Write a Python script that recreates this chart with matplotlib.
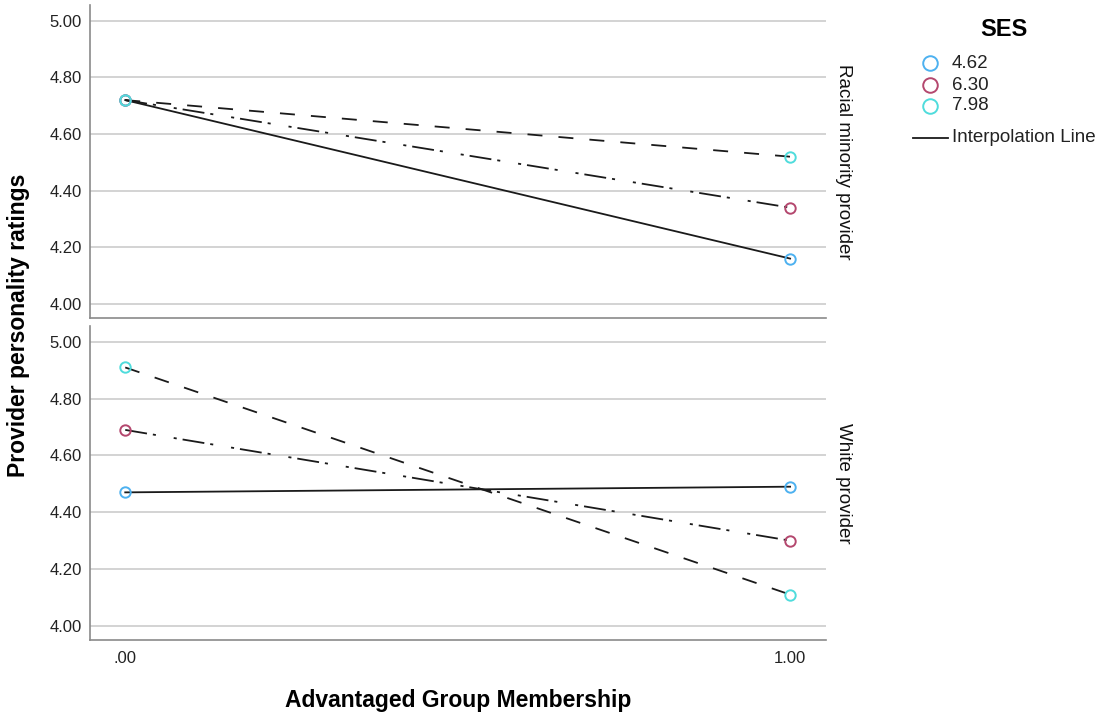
import matplotlib
matplotlib.use("Agg")
import matplotlib.pyplot as plt
from matplotlib.lines import Line2D

plt.rcParams['font.family'] = ['Liberation Sans', 'DejaVu Sans']

# Data
x_vals = [0.0, 1.0]
x_labels = [".00", "1.00"]
ses_levels = ["4.62", "6.30", "7.98"]
panels = ["Racial minority provider", "White provider"]

minority_462 = [4.72, 4.16]
minority_630 = [4.72, 4.34]
minority_798 = [4.72, 4.52]

white_462 = [4.47, 4.49]
white_630 = [4.69, 4.30]
white_798 = [4.91, 4.11]

y_ticks = [4.00, 4.20, 4.40, 4.60, 4.80, 5.00]

colors = ["#4DB1F0", "#B4476E", "#4FDCDC"]
styles = ["-", (0, (12.2, 3.3, 1.7, 10, 1.7, 3.3)), (0, (8.3, 8.9))]
line_w = 1.3

W, H = 1102, 720
fig = plt.figure(figsize=(W / 100, H / 100), dpi=100)
ax_top = fig.add_axes([90/W, 1-318/H, (826-90)/W, (318-5)/H])
ax_bot = fig.add_axes([90/W, 1-640/H, (826-90)/W, (640-326)/H])

series = {
    ax_top: [minority_462, minority_630, minority_798],
    ax_bot: [white_462, white_630, white_798],
}

for ax, label in zip([ax_top, ax_bot], panels):
    for vals, c, ls in zip(series[ax], colors, styles):
        ax.plot(x_vals, vals, color="#1a1a1a", lw=line_w, ls=ls, zorder=3)
        ax.plot(x_vals, vals, ls="none", marker="o", ms=7.5, mfc="none",
                mec=c, mew=1.4, zorder=4)
    ax.set_xlim(-0.053, 1.054)
    ax.set_ylim(3.95, 5.056)
    ax.set_yticks(y_ticks)
    ax.set_yticklabels([f"{v:.2f}" for v in y_ticks], fontsize=12)
    ax.grid(axis="y", color="#d0d0d0", lw=1.3, zorder=0)
    ax.set_axisbelow(True)
    for s in ["top", "right"]:
        ax.spines[s].set_visible(False)
    for s in ["left", "bottom"]:
        ax.spines[s].set_color("#8a8a8a")
        ax.spines[s].set_linewidth(1.2)
    ax.tick_params(length=0, pad=6, colors="#222222")
    ax.text(1.012, 0.5, label, transform=ax.transAxes, rotation=-90,
            ha="left", va="center", fontsize=13.5, color="#111111")

ax_top.set_xticks([])
ax_bot.set_xticks(x_vals)
ax_bot.set_xticklabels(x_labels, fontsize=12)
ax_bot.tick_params(axis="x", pad=8)

fig.text(19/W, 1-325/H, "Provider personality ratings", rotation=90,
         ha="center", va="center", fontsize=16.5, fontweight="bold")
fig.text(458/W, 1-700/H, "Advantaged Group Membership",
         ha="center", va="center", fontsize=16.5, fontweight="bold")

# Legend drawn in figure coordinates
fig.text(1004/W, 1-30/H, "SES", ha="center", va="center",
         fontsize=17, fontweight="bold")
legend_rows = [63, 85, 106]
for lvl, c, yy in zip(ses_levels, colors, legend_rows):
    fig.add_artist(Line2D([930/W], [1-yy/H], ls="none", marker="o", ms=10.5,
                          mfc="none", mec=c, mew=1.4, transform=fig.transFigure))
    fig.text(952/W, 1-yy/H, lvl, ha="left", va="center", fontsize=13.5,
             color="#222222")
fig.add_artist(Line2D([913/W, 948/W], [1-138/H, 1-138/H], color="#1a1a1a",
                      lw=line_w, transform=fig.transFigure))
fig.text(952/W, 1-138/H, "Interpolation Line", ha="left", va="center",
         fontsize=13.5, color="#222222")

fig.savefig("out.png", dpi=100)
